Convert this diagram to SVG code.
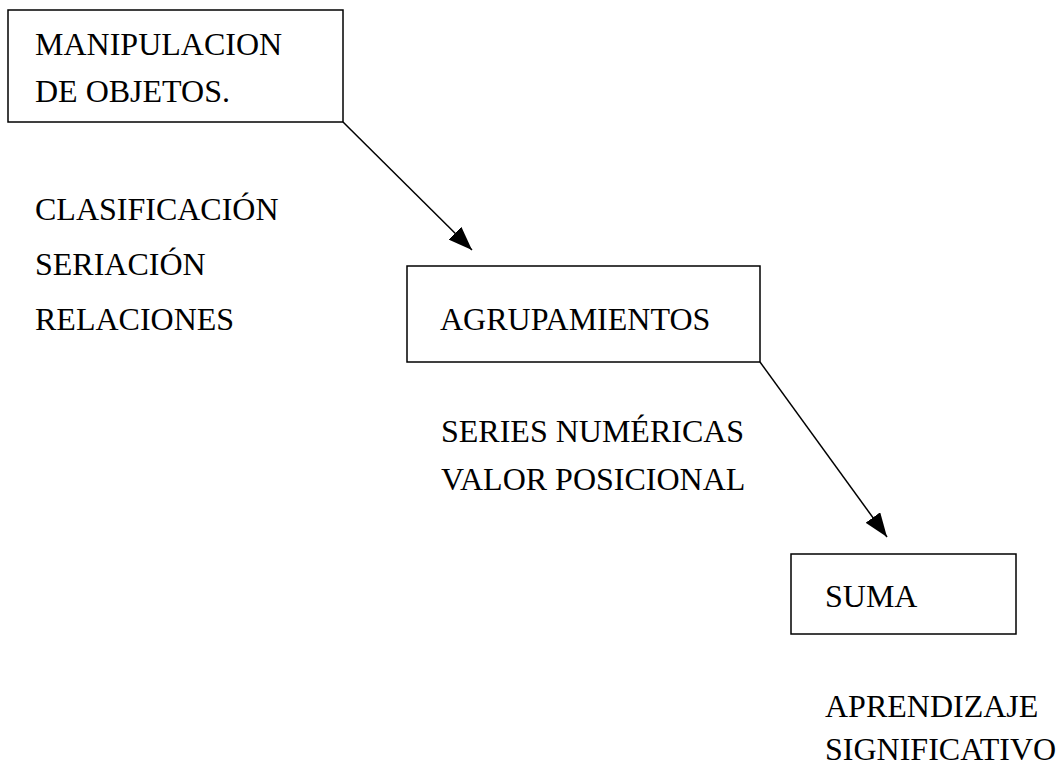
<svg xmlns="http://www.w3.org/2000/svg" width="1060" height="776" viewBox="0 0 1060 776">
  <style>
    .box { fill: #ffffff; stroke: #000000; stroke-width: 1.5; }
    .lbl { font-family: "Times New Roman", Times, "Liberation Serif", Tinos, "DejaVu Serif", "Noto Serif", serif; font-size: 32px; fill: #000000; }
    .link { stroke: #000000; stroke-width: 1.5; fill: none; }
  </style>
  <defs>
    <marker id="arrow" viewBox="0 0 24 18" refX="24" refY="9" markerWidth="24" markerHeight="18" markerUnits="userSpaceOnUse" orient="auto">
      <path d="M0,0 L24,9 L0,18 Z" fill="#000000"/>
    </marker>
  </defs>
  <rect width="1060" height="776" fill="#ffffff"/>

  <g id="connectors">
    <line class="link" x1="343" y1="122" x2="472" y2="250" marker-end="url(#arrow)"/>
    <line class="link" x1="760" y1="362" x2="887" y2="537" marker-end="url(#arrow)"/>
  </g>

  <g id="node-manipulacion">
    <rect class="box" x="8" y="10" width="335" height="112"/>
    <text class="lbl" x="35" y="55">MANIPULACION</text>
    <text class="lbl" x="35" y="102">DE OBJETOS.</text>
  </g>

  <g id="label-clasificacion">
    <text class="lbl" x="35" y="220">CLASIFICACIÓN</text>
    <text class="lbl" x="35" y="275">SERIACIÓN</text>
    <text class="lbl" x="35" y="330">RELACIONES</text>
  </g>

  <g id="node-agrupamientos">
    <rect class="box" x="407" y="266" width="353" height="96"/>
    <text class="lbl" x="440" y="330">AGRUPAMIENTOS</text>
  </g>

  <g id="label-series">
    <text class="lbl" x="441" y="442">SERIES NUMÉRICAS</text>
    <text class="lbl" x="441" y="490">VALOR POSICIONAL</text>
  </g>

  <g id="node-suma">
    <rect class="box" x="791" y="554" width="225" height="80"/>
    <text class="lbl" x="825" y="607">SUMA</text>
  </g>

  <g id="label-aprendizaje">
    <text class="lbl" x="825" y="717">APRENDIZAJE</text>
    <text class="lbl" x="825" y="760">SIGNIFICATIVO</text>
  </g>
</svg>
